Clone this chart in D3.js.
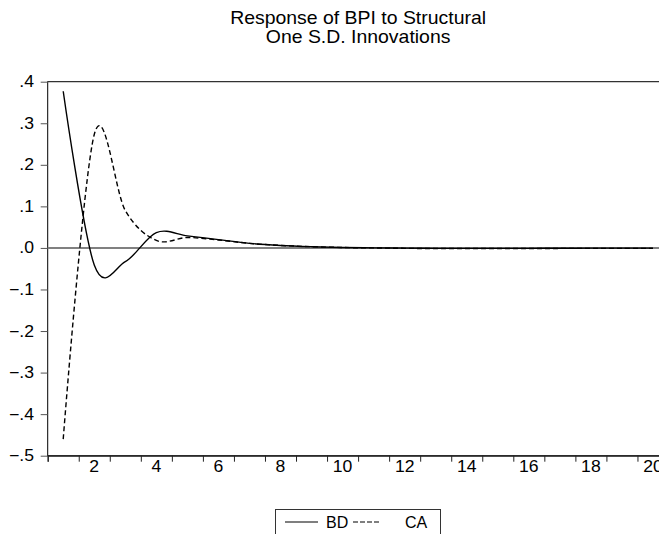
<!DOCTYPE html>
<html>
<head>
<meta charset="utf-8">
<script src="https://cdn.jsdelivr.net/npm/d3@7"></script>
<style>
html,body{margin:0;padding:0;background:#fff;overflow:hidden;}
svg{display:block;font-family:"Liberation Sans",Arial,sans-serif;}
</style>
</head>
<body>
<svg id="chart" width="659" height="534"></svg>
<script>
const periods = d3.range(1, 21);
const bd = [0.377, -0.041, -0.033, 0.037, 0.029, 0.020, 0.011, 0.006, 0.003, 0.001,
            0.000, -0.0005, -0.001, -0.001, -0.001, -0.001, -0.0008, -0.0006, -0.0005, -0.0004];
const ca = [-0.460, 0.273, 0.090, 0.018, 0.025, 0.019, 0.011, 0.006, 0.003, 0.001,
            0.000, -0.001, -0.0015, -0.0015, -0.0015, -0.0015, -0.0012, -0.001, -0.001, -0.001];
const yTicks = [0.4, 0.3, 0.2, 0.1, 0.0, -0.1, -0.2, -0.3, -0.4, -0.5];
const xLabels = [2, 4, 6, 8, 10, 12, 14, 16, 18, 20];
const titleLines = ["Response of BPI to Structural", "One S.D. Innovations"];
const seriesNames = ["BD", "CA"];

const svg = d3.select("#chart");
const pLeft = 47.7, pTop = 81.7, pBottom = 455.7, step = 31.04;
const pRight = pLeft + 20 * step;
const sx = 1.1;

const x = d3.scaleLinear().domain([0.5, 20.5]).range([pLeft, pRight]);
const y = d3.scaleLinear().domain([-0.5, 0.4]).range([pBottom, pTop]);

// title
svg.append("g").selectAll("text").data(titleLines).join("text")
  .attr("transform", (d, i) => `translate(${(pLeft + pRight) / 2},${24 + i * 19}) scale(1.08,1)`)
  .attr("text-anchor", "middle").attr("font-size", 18).attr("fill", "#000")
  .text(d => d);

// frame
svg.append("rect").attr("x", pLeft).attr("y", pTop)
  .attr("width", pRight - pLeft).attr("height", pBottom - pTop)
  .attr("fill", "none").attr("stroke", "#000").attr("stroke-width", 1);

// zero line
svg.append("line").attr("x1", pLeft).attr("x2", pRight)
  .attr("y1", y(0)).attr("y2", y(0))
  .attr("stroke", "#808080").attr("stroke-width", 2);

// y axis
const fmt = v => { const s = d3.format(".1f")(v); return s.replace("0.", "."); };
const yAxis = d3.axisLeft(y).tickValues(yTicks).tickSize(7).tickFormat("");
const gy = svg.append("g").attr("transform", `translate(${pLeft},0)`).call(yAxis);
gy.select(".domain").remove();
gy.selectAll(".tick line").attr("stroke", "#555");
svg.append("g").selectAll("text").data(yTicks).join("text")
  .attr("transform", d => `translate(34,${y(d) + 5.5}) scale(${sx},1)`)
  .attr("text-anchor", "end").attr("font-size", 16).attr("fill", "#000")
  .text(fmt);

// x axis: ticks at band edges
const xEdges = d3.range(0, 21).map(i => i + 0.5);
const xAxis = d3.axisBottom(x).tickValues(xEdges).tickSize(6).tickFormat("");
const gx = svg.append("g").attr("transform", `translate(0,${pBottom})`).call(xAxis);
gx.select(".domain").attr("stroke", "#222").attr("stroke-width", 1.2);
gx.selectAll(".tick line").attr("stroke", "#222");
svg.append("g").selectAll("text").data(xLabels).join("text")
  .attr("transform", d => `translate(${x(d)},${pBottom + 16}) scale(${sx},1)`)
  .attr("text-anchor", "middle").attr("font-size", 16).attr("fill", "#000")
  .text(d => d);

// lines
const line = d3.line().x((d, i) => x(periods[i])).y(d => y(d)).curve(d3.curveCardinal.tension(0));
svg.append("path").datum(bd).attr("d", line)
  .attr("fill", "none").attr("stroke", "#000").attr("stroke-width", 1.4);
svg.append("path").datum(ca).attr("d", line)
  .attr("fill", "none").attr("stroke", "#000").attr("stroke-width", 1.4)
  .attr("stroke-dasharray", "5,3");

// legend
const lg = svg.append("g");
lg.append("rect").attr("x", 275.5).attr("y", 509.5).attr("width", 165).attr("height", 40)
  .attr("fill", "#fff").attr("stroke", "#333").attr("stroke-width", 1);
lg.append("line").attr("x1", 285).attr("x2", 318).attr("y1", 522).attr("y2", 522)
  .attr("stroke", "#000").attr("stroke-width", 1.2);
lg.append("text").attr("x", 326).attr("y", 527.5).attr("font-size", 16).text(seriesNames[0]);
lg.append("line").attr("x1", 353).attr("x2", 379).attr("y1", 522).attr("y2", 522)
  .attr("stroke", "#000").attr("stroke-width", 1.2).attr("stroke-dasharray", "5,2");
lg.append("text").attr("x", 405).attr("y", 527.5).attr("font-size", 16).text(seriesNames[1]);
</script>
</body>
</html>
